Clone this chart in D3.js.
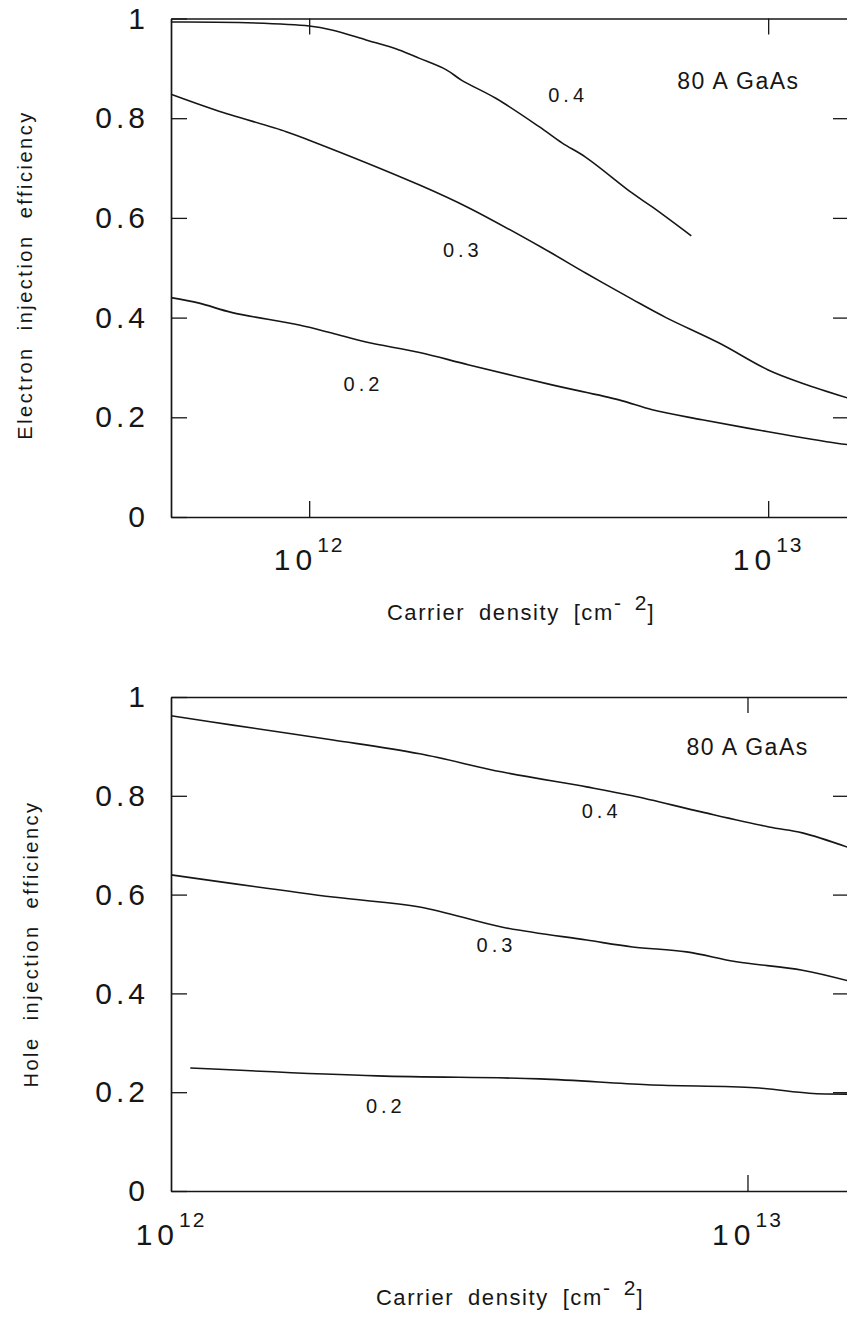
<!DOCTYPE html>
<html>
<head>
<meta charset="utf-8">
<script src="https://cdn.jsdelivr.net/npm/d3@7"></script>
<style>
  html, body { margin: 0; padding: 0; background: #fff; }
  svg { display: block; }
  text { font-family: "Liberation Sans", Arial, Helvetica, sans-serif; fill: #161616; }
</style>
</head>
<body>
<svg id="chart" width="847" height="1318"></svg>
<script>
// Injection efficiency versus sheet carrier density, 80 A GaAs well.
// Curves are labelled by the barrier parameter (0.2, 0.3, 0.4).

const yTicks = [0, 0.2, 0.4, 0.6, 0.8, 1];
const yTickLabels = ["0", "0.2", "0.4", "0.6", "0.8", "1"];
const xTicks = [1e12, 1e13];
const xTickExponents = ["12", "13"];
const curveNames = ["0.4", "0.3", "0.2"];
const wellLabel = "80 A GaAs";

// Electron injection efficiency: [carrier density (cm^-2), efficiency]
const electron04 = [
  [5e11, 0.993], [7e11, 0.992], [1e12, 0.985], [1.12e12, 0.977], [1.33e12, 0.957],
  [1.57e12, 0.937], [1.74e12, 0.92], [1.99e12, 0.897], [2.15e12, 0.876], [2.55e12, 0.84],
  [3.17e12, 0.783], [3.56e12, 0.75], [4.0e12, 0.722], [5.05e12, 0.65], [5.59e12, 0.622],
  [6.8e12, 0.564]
];
const electron03 = [
  [5e11, 0.848], [6.27e11, 0.816], [8.91e11, 0.773], [1e12, 0.756], [1.74e12, 0.666],
  [2.23e12, 0.62], [3.22e12, 0.54], [4.01e12, 0.489], [5.05e12, 0.437], [5.99e12, 0.40],
  [7.82e12, 0.349], [1.0e13, 0.295], [1.19e13, 0.268], [1.5e13, 0.238]
];
const electron02 = [
  [5e11, 0.44], [5.76e11, 0.429], [6.8e11, 0.41], [9.51e11, 0.385], [1.12e12, 0.369],
  [1.33e12, 0.351], [1.74e12, 0.33], [2.23e12, 0.305], [3.38e12, 0.265], [4.73e12, 0.235],
  [5.59e12, 0.215], [7.18e12, 0.195], [1.0e13, 0.171], [1.41e13, 0.148], [1.5e13, 0.145]
];

// Hole injection efficiency: [carrier density (cm^-2), efficiency]
const hole04 = [
  [1e12, 0.962], [1.28e12, 0.943], [1.91e12, 0.913], [2.70e12, 0.885], [3.76e12, 0.848],
  [5.26e12, 0.818], [6.32e12, 0.80], [8.35e12, 0.767], [1.09e13, 0.737], [1.245e13, 0.725],
  [1.5e13, 0.695]
];
const hole03 = [
  [1e12, 0.64], [1.91e12, 0.595], [2.70e12, 0.575], [3.76e12, 0.534], [5.26e12, 0.508],
  [6.32e12, 0.494], [7.84e12, 0.484], [9.57e12, 0.464], [1.245e13, 0.447], [1.5e13, 0.425]
];
const hole02 = [
  [1.08e12, 0.249], [2.28e12, 0.233], [4.36e12, 0.227], [6.71e12, 0.215], [1.03e13, 0.209],
  [1.28e13, 0.198], [1.5e13, 0.196]
];

// Where each curve label sits, in data units [density, efficiency at baseline]
const electronLabelAt = [[3.63e12, 0.832], [2.14e12, 0.522], [1.30e12, 0.253]];
const electronWellAt = [6.34e12, 0.859];
const holeLabelAt = [[5.54e12, 0.755], [3.64e12, 0.484], [2.34e12, 0.158]];
const holeWellAt = [7.84e12, 0.883];

const svg = d3.select("#chart");
svg.append("rect").attr("width", 847).attr("height", 1318).attr("fill", "#fff");

const INK = "#161616";
const TICK = 16;

const panels = [
  {
    yTitle: "Electron injection efficiency",
    series: [electron04, electron03, electron02],
    labelAt: electronLabelAt, wellAt: electronWellAt,
    xDomain: [5e11, 1.5e13],
    left: 171, right: 849, top: 18.5, bottom: 517,
    xTickDy: 53, xTitleX: 521, xTitleY: 620,
    yTitleX: 32, yTitleY: 275
  },
  {
    yTitle: "Hole injection efficiency",
    series: [hole04, hole03, hole02],
    labelAt: holeLabelAt, wellAt: holeWellAt,
    xDomain: [1e12, 1.5e13],
    left: 171, right: 849, top: 697, bottom: 1191,
    xTickDy: 54, xTitleX: 510, xTitleY: 1305,
    yTitleX: 38, yTitleY: 944
  }
];

panels.forEach(p => {
  const x = d3.scaleLog().domain(p.xDomain).range([p.left, p.right]);
  const y = d3.scaleLinear().domain([0, 1]).range([p.bottom, p.top]);
  const g = svg.append("g");

  const styleAxis = sel => {
    sel.select(".domain").attr("stroke", INK).attr("stroke-width", 1.7);
    sel.selectAll(".tick line").attr("stroke", INK).attr("stroke-width", 1.3);
  };

  // left axis with labels
  g.append("g")
    .attr("transform", `translate(${p.left},0)`)
    .call(d3.axisLeft(y).tickValues(yTicks).tickSize(-TICK).tickSizeOuter(0)
      .tickPadding(22).tickFormat((d, i) => yTickLabels[i]))
    .call(styleAxis)
    .call(a => a.selectAll(".tick text")
      .attr("font-size", 30).attr("letter-spacing", 4).attr("fill", INK)
      .attr("font-family", "'Liberation Sans', Arial, sans-serif"));

  // right axis, ticks only
  g.append("g")
    .attr("transform", `translate(${p.right},0)`)
    .call(d3.axisRight(y).tickValues(yTicks.slice(1, -1)).tickSize(-TICK).tickSizeOuter(0).tickFormat(""))
    .call(styleAxis);

  // bottom axis
  g.append("g")
    .attr("transform", `translate(0,${p.bottom})`)
    .call(d3.axisBottom(x).tickValues(xTicks.filter(v => v > p.xDomain[0]))
      .tickSize(-TICK).tickSizeOuter(0).tickFormat(""))
    .call(styleAxis);

  // top axis
  g.append("g")
    .attr("transform", `translate(0,${p.top})`)
    .call(d3.axisTop(x).tickValues(xTicks.filter(v => v > p.xDomain[0]))
      .tickSize(-TICK).tickSizeOuter(0).tickFormat(""))
    .call(styleAxis);

  // decade labels: 10 with superscript exponent
  xTicks.forEach((v, i) => {
    const t = g.append("text")
      .attr("x", x(v)).attr("y", p.bottom + p.xTickDy)
      .attr("text-anchor", "middle").attr("font-size", 30);
    t.append("tspan").attr("letter-spacing", 5).text("10");
    t.append("tspan").attr("dy", -18).attr("font-size", 21).attr("letter-spacing", 2)
      .text(xTickExponents[i]);
  });

  // x title with cm^-2
  const xt = g.append("text")
    .attr("x", p.xTitleX).attr("y", p.xTitleY)
    .attr("text-anchor", "middle").attr("font-size", 22)
    .attr("letter-spacing", 1.6).attr("word-spacing", 6);
  xt.append("tspan").text("Carrier density [cm");
  xt.append("tspan").attr("dy", -10).attr("font-size", 21).attr("letter-spacing", 1).text("- 2");
  xt.append("tspan").attr("dy", 10).text("]");

  // y title
  g.append("text")
    .attr("transform", `translate(${p.yTitleX},${p.yTitleY}) rotate(-90)`)
    .attr("text-anchor", "middle").attr("font-size", 20)
    .attr("letter-spacing", 2.5).attr("word-spacing", 8)
    .text(p.yTitle);

  // curves
  const line = d3.line().x(d => x(d[0])).y(d => y(d[1])).curve(d3.curveCatmullRom.alpha(0.5));
  p.series.forEach(s => {
    g.append("path").datum(s)
      .attr("d", line)
      .attr("fill", "none").attr("stroke", INK).attr("stroke-width", 1.6)
      .attr("stroke-linejoin", "round");
  });

  // curve labels
  curveNames.forEach((name, i) => {
    g.append("text")
      .attr("x", x(p.labelAt[i][0]) + 2).attr("y", y(p.labelAt[i][1]))
      .attr("text-anchor", "middle").attr("font-size", 20).attr("letter-spacing", 4)
      .text(name);
  });

  g.append("text")
    .attr("x", x(p.wellAt[0])).attr("y", y(p.wellAt[1]))
    .attr("font-size", 23).attr("letter-spacing", 1.5)
    .text(wellLabel);
});
</script>
</body>
</html>
